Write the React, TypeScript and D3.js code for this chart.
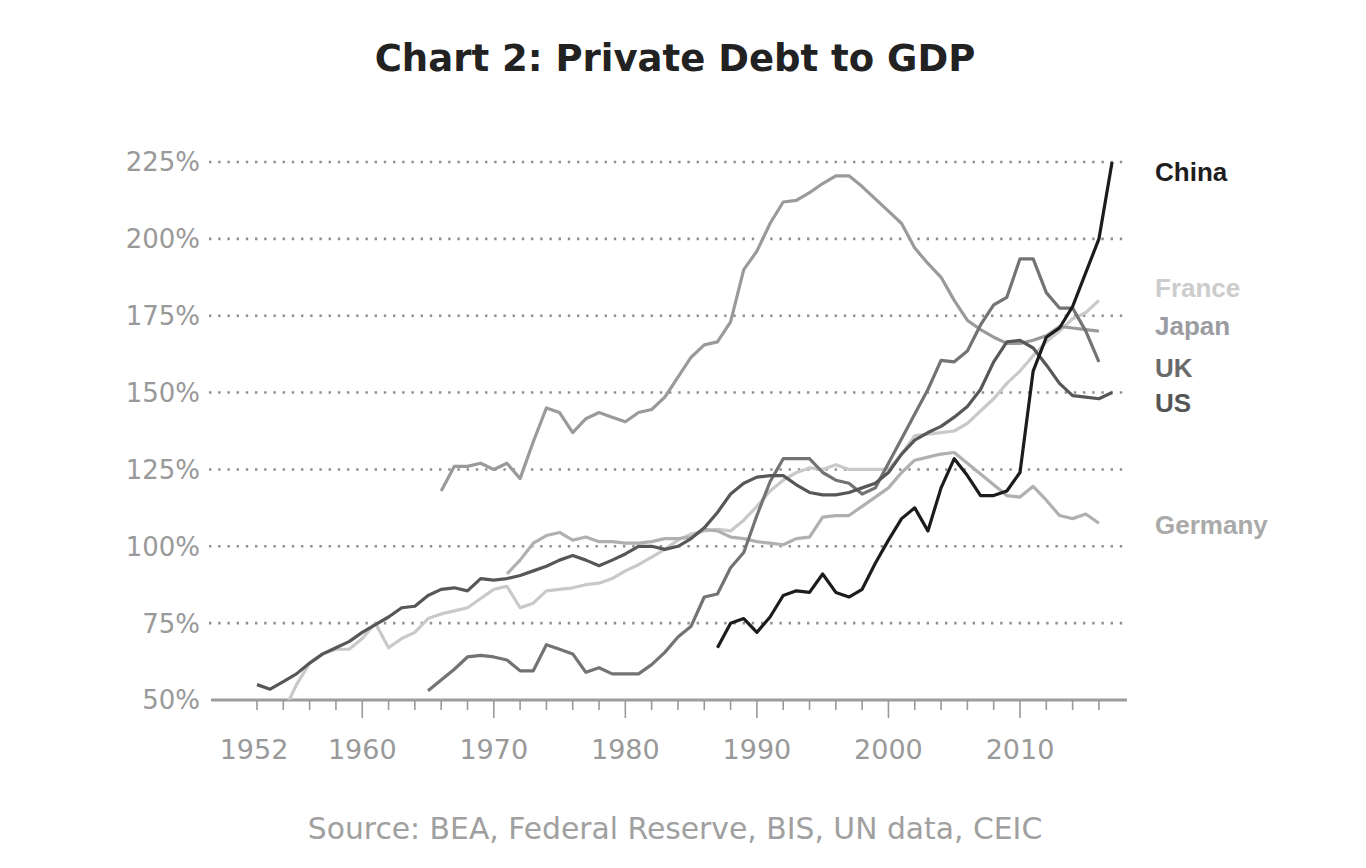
import React, { useEffect, useRef } from 'react';
import * as d3 from 'd3';

// private debt to GDP, % — one value per year from the start year
const usStart = 1952;
const usValues = [
  55, 53.5, 56, 58.5, 62, 65, 67, 69, 72, 74.5,
  77, 80, 80.5, 84, 86, 86.5, 85.5, 89.5, 89, 89.5,
  90.5, 92, 93.5, 95.5, 97, 95.5, 93.7, 95.5, 97.5, 100,
  100, 99, 100, 102.5, 106, 111, 117, 120.5, 122.5, 123,
  123, 120, 117.5, 116.7, 116.7, 117.5, 119, 120.5, 124, 130,
  134.5, 137, 139, 142, 145.5, 151, 160, 166.5, 167, 164.5,
  159, 153, 149, 148.5, 148, 150,
];

const franceStart = 1954;
const franceValues = [
  46, 55, 62, 65, 66.5, 66.5, 70, 75, 67, 70,
  72, 76.5, 78, 79, 80, 83, 86, 87, 80, 81.5,
  85.5, 86, 86.5, 87.5, 88, 89.5, 92, 94, 96.5, 99,
  102, 104, 105, 105.5, 105, 108.5, 113, 118, 121.5, 124,
  125.5, 125, 126.5, 125, 125, 125, 125, 130, 136, 136.5,
  137, 137.5, 140, 144, 148, 153, 157, 162, 166.5, 170,
  174, 176, 180,
];

const germanyStart = 1971;
const germanyValues = [
  91, 95.5, 101, 103.5, 104.5, 102, 103, 101.5, 101.5, 101,
  101, 101.5, 102.5, 102.5, 103, 105.5, 105, 103, 102.5, 101.5,
  101, 100.5, 102.5, 103, 109.5, 110, 110, 113, 116, 119,
  124, 128, 129, 130, 130.5, 127, 123.5, 120, 116.5, 116,
  119.5, 115, 110, 109, 110.5, 107.5,
];

const japanStart = 1966;
const japanValues = [
  118, 126, 126, 127, 125, 127, 122, 134, 145, 143.5,
  137, 141.5, 143.5, 142, 140.5, 143.5, 144.5, 148.5, 155, 161.5,
  165.5, 166.5, 173, 190, 196, 205, 212, 212.5, 215, 218,
  220.5, 220.5, 217, 213, 209, 205, 197, 192, 187.5, 180,
  173.5, 170.5, 168, 166, 166, 167, 168.5, 171.5, 171, 170.5,
  170,
];

const ukStart = 1965;
const ukValues = [
  53, 56.5, 60, 64, 64.5, 64, 63, 59.5, 59.5, 68,
  66.5, 65, 59, 60.5, 58.5, 58.5, 58.5, 61.5, 65.5, 70.5,
  74, 83.5, 84.5, 93, 98, 110, 121, 128.5, 128.5, 128.5,
  124, 121.5, 120.5, 117, 119, 127, 135, 143, 151, 160.5,
  160, 163.5, 172, 178.5, 181, 193.5, 193.5, 182.5, 177.5, 177.5,
  170, 160,
];

const chinaStart = 1987;
const chinaValues = [
  67, 75, 76.5, 72, 77, 84, 85.5, 85, 91, 85,
  83.5, 86, 94.5, 102, 109, 112.5, 105, 119, 128.5, 123,
  116.5, 116.5, 118, 124, 157, 168, 171, 178, 189, 200,
  225,
];

const countries = ['China', 'France', 'Japan', 'UK', 'US', 'Germany'];
const lineColors = ['#1c1c1c', '#c9c9c9', '#9a9a9a', '#737373', '#575757', '#b0b0b0'];
const labelColors = ['#1e1e1e', '#cccccc', '#9a9ca2', '#6a6a6a', '#555555', '#aaaaaa'];
// where each end label sits, in % of GDP
const labelAt = [222, 184, 171.7, 158, 146.6, 107];

const yTicks = [50, 75, 100, 125, 150, 175, 200, 225];
const yearLabels = [1952, 1960, 1970, 1980, 1990, 2000, 2010];

const title = 'Chart 2: Private Debt to GDP';
const source = 'Source: BEA, Federal Reserve, BIS, UN data, CEIC';

const toSeries = (start: number, values: number[]) =>
  values.map((v, i) => ({ year: start + i, value: v }));

const series: { [k: string]: { year: number; value: number }[] } = {
  China: toSeries(chinaStart, chinaValues),
  France: toSeries(franceStart, franceValues),
  Japan: toSeries(japanStart, japanValues),
  UK: toSeries(ukStart, ukValues),
  US: toSeries(usStart, usValues),
  Germany: toSeries(germanyStart, germanyValues),
};

// draw order: lightest first, China on top
const drawOrder = ['France', 'Germany', 'Japan', 'UK', 'US', 'China'];

export default function App() {
  const svgRef = useRef<SVGSVGElement>(null);

  useEffect(() => {
    document.body.style.margin = '0';
    if (!svgRef.current) return;
    const svg = d3.select(svgRef.current);
    svg.selectAll('*').remove();

    const x = d3.scaleLinear().domain([1952, 2010]).range([257, 1020]);
    const y = d3.scaleLinear().domain([50, 225]).range([700, 162]);
    const left = 209;
    const right = 1126;
    const axisFont = 'DejaVu Sans';

    svg.append('rect').attr('width', 1366).attr('height', 868).attr('fill', '#fff');

    svg.append('text')
      .attr('x', 675).attr('y', 71)
      .attr('text-anchor', 'middle')
      .attr('font-family', 'DejaVu Sans')
      .attr('font-weight', 'bold')
      .attr('font-size', 37)
      .attr('fill', '#222')
      .text(title);

    // dotted gridlines
    svg.append('g')
      .selectAll('line')
      .data(yTicks.filter(t => t > 50))
      .enter()
      .append('line')
      .attr('x1', left).attr('x2', right)
      .attr('y1', d => y(d)).attr('y2', d => y(d))
      .attr('stroke', '#8f8f8f')
      .attr('stroke-width', 2.6)
      .attr('stroke-dasharray', '2.4 6.8');

    svg.append('g')
      .selectAll('text')
      .data(yTicks)
      .enter()
      .append('text')
      .attr('x', 200)
      .attr('y', d => y(d))
      .attr('dy', '0.36em')
      .attr('text-anchor', 'end')
      .attr('font-family', axisFont)
      .attr('font-size', 26)
      .attr('fill', '#999')
      .text(d => d + '%');

    // x axis
    const ticks = d3.range(1952, 2017, 2);
    svg.append('g')
      .selectAll('line')
      .data(ticks)
      .enter()
      .append('line')
      .attr('x1', d => x(d)).attr('x2', d => x(d))
      .attr('y1', 700)
      .attr('y2', d => (d % 10 === 0 ? 718 : 710))
      .attr('stroke', '#999')
      .attr('stroke-width', 1.6);

    svg.append('line')
      .attr('x1', left + 2).attr('x2', right + 1)
      .attr('y1', 700).attr('y2', 700)
      .attr('stroke', '#9c9c9c')
      .attr('stroke-width', 3);

    svg.append('g')
      .selectAll('text')
      .data(yearLabels)
      .enter()
      .append('text')
      .attr('x', d => x(d) - (d === 1952 ? 3 : 0))
      .attr('y', 759)
      .attr('text-anchor', 'middle')
      .attr('font-family', axisFont)
      .attr('font-size', 27)
      .attr('fill', '#999')
      .text(d => d);

    svg.append('clipPath').attr('id', 'plot')
      .append('rect').attr('x', left).attr('y', 100).attr('width', right - left).attr('height', 600);

    const line = d3.line<{ year: number; value: number }>()
      .x(d => x(d.year))
      .y(d => y(d.value));

    svg.append('g')
      .attr('clip-path', 'url(#plot)')
      .selectAll('path')
      .data(drawOrder)
      .enter()
      .append('path')
      .attr('d', c => line(series[c]))
      .attr('fill', 'none')
      .attr('stroke', c => lineColors[countries.indexOf(c)])
      .attr('stroke-width', 3.2)
      .attr('stroke-linejoin', 'round');

    svg.append('g')
      .selectAll('text')
      .data(countries)
      .enter()
      .append('text')
      .attr('x', 1155)
      .attr('y', (_, i) => y(labelAt[i]))
      .attr('dy', '0.36em')
      .attr('font-family', 'Liberation Sans')
      .attr('font-weight', 'bold')
      .attr('font-size', 26)
      .attr('fill', (_, i) => labelColors[i])
      .text(c => c);

    svg.append('text')
      .attr('x', 675).attr('y', 839)
      .attr('text-anchor', 'middle')
      .attr('font-family', axisFont)
      .attr('font-size', 29.8)
      .attr('fill', '#a0a0a0')
      .text(source);
  }, []);

  return <svg ref={svgRef} width={1366} height={868} style={{ display: 'block' }}></svg>;
}
